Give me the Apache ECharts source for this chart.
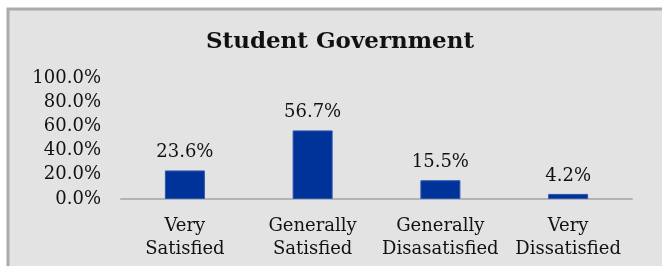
<!DOCTYPE html>
<html>
<head>
<meta charset="utf-8">
<script src="https://cdn.jsdelivr.net/npm/echarts@6/dist/echarts.min.js"></script>
<style>
  html, body { margin: 0; padding: 0; background: #fff; }
  #chart { width: 662px; height: 266px; }
</style>
</head>
<body>
<div id="chart"></div>
<script>
var categories = ['Very\nSatisfied', 'Generally\nSatisfied', 'Generally\nDisasatisfied', 'Very\nDissatisfied'];
var values = [23.6, 56.7, 15.5, 4.2];
var yTicks = [0, 20, 40, 60, 80, 100];

var serif = '"DejaVu Serif", "Liberation Serif", serif';

var chart = echarts.init(document.getElementById('chart'));
chart.setOption({
  backgroundColor: '#fff',
  animation: false,
  graphic: [
    {
      type: 'rect',
      shape: { x: 8, y: 9, width: 660, height: 270 },
      style: { fill: '#e3e3e3', stroke: '#ababab', lineWidth: 3 },
      z: -10
    }
  ],
  title: {
    text: 'Student Government',
    left: 335,
    top: 26,
    textAlign: 'center',
    textStyle: { fontFamily: serif, fontWeight: 'bold', fontSize: 23, color: '#111' }
  },
  grid: { left: 121, right: 30, top: 78, bottom: 67 },
  xAxis: {
    type: 'category',
    data: categories,
    axisLine: { lineStyle: { color: '#b3b3b3', width: 2 } },
    axisTick: { show: false },
    axisLabel: {
      interval: 0,
      margin: 16,
      fontFamily: serif,
      fontSize: 18,
      lineHeight: 23,
      color: '#111'
    }
  },
  yAxis: {
    type: 'value',
    min: 0,
    max: 100,
    interval: 20,
    axisLine: { show: false },
    axisTick: { show: false },
    splitLine: { show: false },
    axisLabel: {
      margin: 20,
      fontFamily: serif,
      fontSize: 18,
      color: '#111',
      formatter: function (v) { return yTicks.indexOf(v) >= 0 ? v.toFixed(1) + '%' : ''; }
    }
  },
  series: [
    {
      type: 'bar',
      data: values,
      barWidth: 40,
      itemStyle: { color: '#003399', borderColor: '#2a55b0', borderWidth: 1 },
      label: {
        show: true,
        position: 'top',
        distance: 9,
        fontFamily: serif,
        fontSize: 18,
        color: '#111',
        formatter: function (p) { return p.value.toFixed(1) + '%'; }
      }
    }
  ]
});
</script>
</body>
</html>
